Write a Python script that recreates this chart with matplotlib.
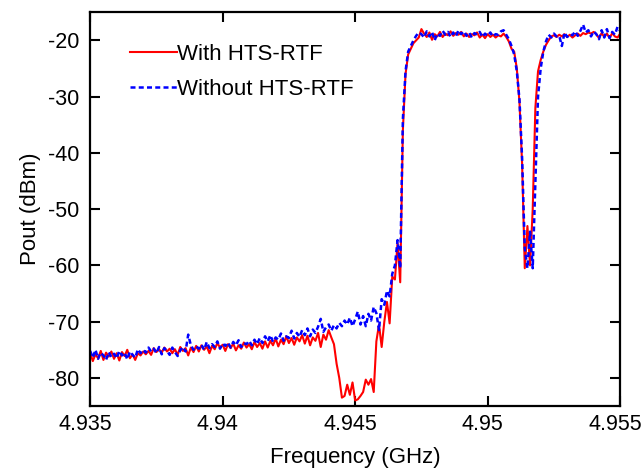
import numpy as np
import matplotlib
matplotlib.use('Agg')
import matplotlib.pyplot as plt
import matplotlib.transforms as mtransforms

plt.rcParams['font.family'] = ['Liberation Sans', 'DejaVu Sans']
plt.rcParams['axes.unicode_minus'] = False

# sweep: 4.935 .. 4.955 GHz, 201 points
freq = np.linspace(4.935, 4.955, 201)

# output power with the HTS-RTF (dBm)
pout_with = [
    -75.5, -77.0, -75.8, -76.5, -75.2, -76.8, -75.5, -76.2, -75.3, -76.6,
    -75.6, -76.9, -75.4, -76.1, -75.0, -76.5, -75.8, -76.8, -75.6, -76.0,
    -75.3, -75.8, -75.2, -75.9, -74.7, -75.4, -74.9, -75.5, -74.6, -75.3,
    -74.8, -75.6, -74.9, -75.9, -74.5, -75.2, -74.7, -76.0, -74.6, -75.4,
    -74.3, -75.3, -74.2, -75.0, -74.4, -75.6, -74.3, -74.9, -73.8, -74.6,
    -74.1, -75.2, -74.0, -74.7, -73.9, -75.1, -74.2, -74.8, -73.7, -74.6,
    -74.0, -74.9, -73.6, -74.5, -73.8, -74.8, -73.5, -74.6, -73.4, -74.2,
    -73.0, -74.4, -73.2, -74.0, -72.6, -73.8, -72.9, -74.1, -72.8, -73.5,
    -72.4, -73.9, -72.5, -74.2, -72.8, -73.4, -72.0, -74.5, -72.3, -73.2,
    -71.5, -72.8, -74.0, -77.5, -80.0, -83.5, -83.2, -81.2, -83.0, -80.8,
    -84.0, -83.8, -83.2, -82.5, -80.3, -81.2, -80.2, -82.5, -73.5, -70.5,
    -74.5, -70.0, -66.5, -70.3, -62.0, -62.5, -56.0, -63.0, -36.0, -26.0,
    -22.5, -21.5, -20.5, -20.0, -19.5, -18.0, -18.8, -19.4, -18.6, -19.9,
    -18.9, -19.3, -18.5, -19.4, -18.8, -19.1, -18.4, -19.2, -18.7, -19.0,
    -18.5, -19.3, -18.8, -19.4, -18.9, -19.1, -18.6, -19.5, -19.0, -19.6,
    -18.9, -19.4, -19.0, -19.5, -19.1, -19.3, -18.8, -19.4, -20.2, -21.5,
    -22.0, -25.0, -31.0, -42.0, -60.5, -53.0, -60.0, -50.0, -32.0, -25.5,
    -23.5, -22.0, -20.8, -20.0, -19.3, -19.1, -19.4, -19.0, -19.3, -18.9,
    -19.4, -19.0, -19.5, -19.1, -18.8, -19.2, -18.7, -18.9, -18.6, -18.8,
    -18.5, -18.9, -19.6, -18.7, -19.4, -18.8, -19.6, -18.7, -19.3, -19.5,
    -18.8,
]

# output power without the HTS-RTF (dBm)
pout_without = [
    -75.2, -76.4, -75.0, -76.6, -75.5, -76.0, -76.8, -75.4, -76.3, -75.7,
    -76.5, -75.2, -76.0, -75.5, -76.7, -75.3, -75.9, -76.4, -74.9, -75.6,
    -75.0, -75.5, -74.6, -75.3, -74.8, -75.6, -74.5, -75.8, -74.7, -75.2,
    -75.9, -74.6, -75.4, -76.1, -75.1, -74.5, -75.3, -72.3, -74.2, -75.0,
    -74.4, -74.8, -74.1, -75.0, -73.6, -74.7, -74.0, -74.5, -73.5, -74.8,
    -73.9, -74.3, -73.7, -74.6, -73.6, -74.2, -73.3, -74.5, -73.8, -74.0,
    -73.4, -74.2, -73.2, -74.0, -72.9, -73.8, -72.6, -73.5, -72.4, -73.6,
    -72.8, -73.2, -72.1, -73.4, -72.6, -72.9, -71.6, -73.0, -72.0, -72.7,
    -71.5, -72.4, -71.2, -72.6, -71.4, -72.0, -70.9, -69.5, -71.8, -71.0,
    -70.5, -71.6, -70.6, -71.2, -70.2, -70.8, -69.8, -70.5, -69.3, -70.8,
    -69.6, -68.2, -70.5, -69.0, -70.8, -68.6, -69.8, -67.4, -68.5, -71.5,
    -66.0, -67.0, -64.5, -65.5, -61.5, -60.0, -55.5, -60.5, -34.0, -25.5,
    -22.0, -21.0, -20.0, -19.2, -18.6, -18.9, -19.5, -18.4, -19.3, -18.5,
    -20.0, -18.8, -19.2, -18.3, -19.0, -18.5, -19.4, -18.6, -19.3, -18.2,
    -18.9, -18.4, -19.2, -18.6, -19.5, -18.7, -19.0, -18.5, -19.4, -18.8,
    -19.2, -18.6, -19.3, -18.9, -19.0, -18.4, -18.2, -19.0, -19.8, -21.0,
    -22.5, -25.5, -30.5, -41.0, -57.0, -60.5, -54.0, -60.5, -45.0, -30.0,
    -25.0, -22.0, -20.2, -19.0, -19.5, -18.8, -19.3, -19.2, -21.0, -18.6,
    -19.4, -18.9, -19.1, -18.4, -19.2, -18.3, -17.2, -18.6, -18.2, -19.3,
    -18.4, -18.9, -19.8, -18.2, -19.5, -18.0, -19.6, -18.5, -19.0, -17.6,
    -18.3,
]

x_ticks = [4.935, 4.94, 4.945, 4.95, 4.955]
x_tick_labels = ['4.935', '4.94', '4.945', '4.95', '4.955']
y_ticks = [-80, -70, -60, -50, -40, -30, -20]

fig = plt.figure(figsize=(6.44, 4.70), dpi=100)
ax = fig.add_axes([0.140, 0.136, 0.823, 0.838])

ax.plot(freq, pout_with, color='#ff0000', lw=1.5, label='With HTS-RTF')
ax.plot(freq, pout_without, color='#0000ff', lw=1.8, dashes=(2.0, 1.3),
        label='Without HTS-RTF')

ax.set_xlim(4.935, 4.955)
ax.set_ylim(-85, -15)
ax.set_xticks(x_ticks)
ax.set_xticklabels(x_tick_labels)
ax.set_yticks(y_ticks)

ax.tick_params(direction='in', length=7, width=1.5, top=True, right=True,
               labelsize=15.5)
ax.tick_params(axis='x', pad=5.5)
ax.tick_params(axis='y', pad=8)
for sp in ax.spines.values():
    sp.set_linewidth(1.6)

# x tick labels sit a little left of their ticks in the original
shift = mtransforms.ScaledTranslation(-5 / 100, 0, fig.dpi_scale_trans)
for lab in ax.get_xticklabels():
    lab.set_transform(lab.get_transform() + shift)

ax.set_xlabel('Frequency (GHz)', fontsize=16, labelpad=9)
ax.set_ylabel('Pout (dBm)', fontsize=16, labelpad=5)

ax.legend(loc='upper left', bbox_to_anchor=(0.075, 0.92), frameon=False,
          fontsize=16, handlelength=2.1, handletextpad=0.0,
          labelspacing=0.65, borderaxespad=0, borderpad=0)

fig.savefig('out.png', dpi=100)
